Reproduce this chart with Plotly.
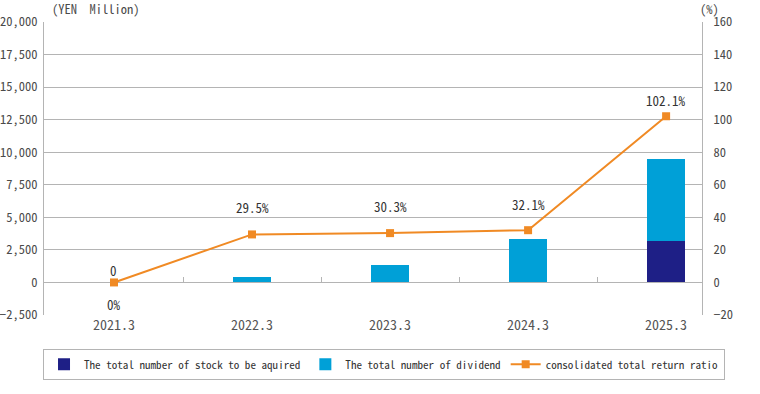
import plotly.graph_objects as go

categories = ["2021.3", "2022.3", "2023.3", "2024.3", "2025.3"]
stock_acquired = [0, 0, 0, 0, 3150]
dividend = [0, 400, 1360, 3300, 6350]
return_ratio = [0, 29.5, 30.3, 32.1, 102.1]
ratio_labels = ["0%", "29.5%", "30.3%", "32.1%", "102.1%"]
label_shift = [-22, 27, 27, 26, 16]

y_left_range = [-2500, 20000]
y_right_range = [-20, 160]

FONT = "Noto Sans Mono CJK JP, DejaVu Sans Mono, monospace"
GRID = "#b4b4b4"
TXT = "#4a4a4a"

fig = go.Figure()
fig.add_trace(go.Bar(name="The total number of stock to be aquired", x=categories, y=stock_acquired,
                     marker=dict(color="#1e1f86", line_width=0), width=0.27))
fig.add_trace(go.Bar(name="The total number of dividend", x=categories, y=dividend,
                     marker=dict(color="#00a0d7", line_width=0), width=0.27))
fig.add_trace(go.Scatter(name="consolidated total return ratio", x=categories, y=return_ratio,
                         yaxis="y2", mode="lines+markers",
                         line=dict(color="#f08a24", width=2),
                         marker=dict(symbol="square", size=8, color="#f08a24")))
# helper axis carrying the boundary ticks on the zero line
fig.add_trace(go.Scatter(x=categories, y=[None]*5, xaxis="x2", showlegend=False, hoverinfo="skip"))

anns = []
for i, (v, t, s) in enumerate(zip(return_ratio, ratio_labels, label_shift)):
    anns.append(dict(x=i, y=v, xref="x", yref="y2", text=t, showarrow=False, yshift=s,
                     font=dict(family=FONT, size=13, color="#333333")))
total = [a + b for a, b in zip(stock_acquired, dividend)]
anns.append(dict(x=0, y=total[0], xref="x", yref="y", text=f"{total[0]:,}", showarrow=False, yshift=12,
                 font=dict(family=FONT, size=13, color="#333333")))
anns.append(dict(x=0.079, y=1.0, xref="paper", yref="paper", text="(YEN\u3000Million)", showarrow=False,
                 yanchor="bottom", xanchor="center", yshift=2, font=dict(family=FONT, size=12.5, color=TXT)))
anns.append(dict(x=1.0, y=1.0, xref="paper", yref="paper", text="(%)", showarrow=False, xshift=7,
                 yanchor="bottom", xanchor="center", yshift=2, font=dict(family=FONT, size=12.5, color=TXT)))

zero_pos = (0 - y_left_range[0]) / (y_left_range[1] - y_left_range[0])

fig.update_layout(
    width=760, height=394,
    margin=dict(l=44, r=58, t=22, b=79, autoexpand=False),
    barmode="stack",
    plot_bgcolor="white", paper_bgcolor="white",
    font=dict(family=FONT, color=TXT),
    xaxis=dict(type="category", range=[-0.507, 4.26], showgrid=False, showline=False, ticks="",
               tickfont=dict(size=14, color="#555555"), zeroline=False, automargin=False),
    xaxis2=dict(type="category", matches="x", overlaying="x", anchor="free", position=zero_pos,
                side="bottom", showticklabels=False, ticks="inside", ticklen=5, tickcolor=GRID,
                tickwidth=1, tickson="boundaries", showgrid=False, showline=False, automargin=False),
    yaxis=dict(range=y_left_range, dtick=2500, tickformat=",", showgrid=True, gridcolor=GRID,
               gridwidth=1, zeroline=False, showline=True, linecolor=GRID, linewidth=1,
               tickfont=dict(size=12.5, color=TXT), ticks="", ticklabelstandoff=3, automargin=False),
    yaxis2=dict(range=y_right_range, dtick=20, overlaying="y", side="right", showgrid=False,
                zeroline=False, showline=True, linecolor=GRID, linewidth=1,
                tickfont=dict(size=12.5, color=TXT), ticks="", ticklabelstandoff=8, automargin=False),
    legend=dict(orientation="h", x=-0.0015, xanchor="left", y=-0.115, yanchor="top",
                bordercolor=GRID, borderwidth=1, font=dict(size=11.1, color="#333333"),
                traceorder="normal", itemwidth=30),
    annotations=anns,
    showlegend=True,
)

fig.write_html("out.html", config={"displayModeBar": False},
               post_script="document.body.style.margin='0px';")
